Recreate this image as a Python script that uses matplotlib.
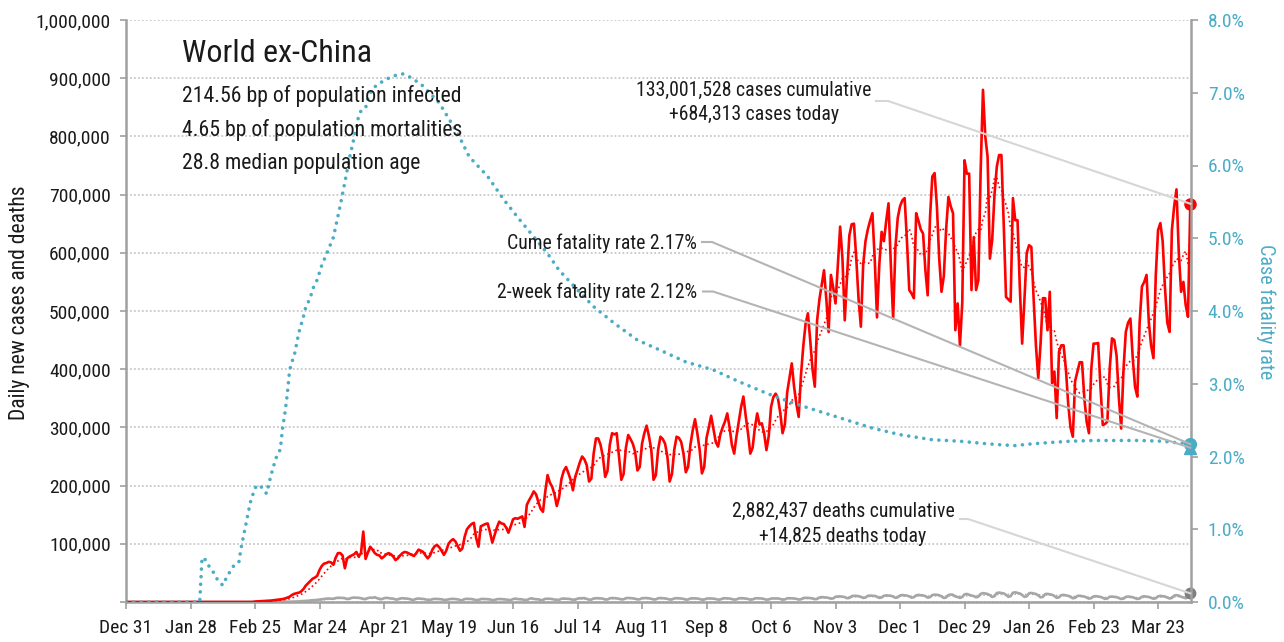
import numpy as np
import pandas as pd
import matplotlib
matplotlib.use("Agg")
import matplotlib.pyplot as plt
from matplotlib import font_manager as fm
from matplotlib.lines import Line2D
from matplotlib.transforms import IdentityTransform

# ---------------- fonts ----------------
_names = {f.name for f in fm.fontManager.ttflist}
FONT = None
for cand in ["Liberation Sans Narrow", "Roboto Condensed", "Open Sans Condensed", "Arial Narrow"]:
    if cand in _names:
        FONT = cand
        break
STRETCH = "normal"
if FONT is None:
    if any(f.name == "DejaVu Sans" and str(f.stretch) in ("condensed", "semi-condensed")
           for f in fm.fontManager.ttflist):
        FONT, STRETCH = "DejaVu Sans", "condensed"
    else:
        FONT = "Liberation Sans"
plt.rcParams["font.family"] = [FONT, "DejaVu Sans"]
plt.rcParams["font.stretch"] = STRETCH

# ---------------- data ----------------
# daily new cases (thousands), one row per week, day 0 = Dec 31 2019
cases_k = [
    0, 0, 0, 0, 0, 0, 0,
    0, 0, 0, 0, 0, 0, 0,
    0, 0, 0, 0, 0, 0, 0,
    0, 0, 0, 0, 0, 0, 0,
    0, 0, 0, 0, 0, 0, 0,
    0, 0, 0, 0, 0, 0, 0,
    0, 0, 0, 0, 0, 0, 0,
    0, 0, 0, 0, 0, 0, 0,
    0.8, 1.0, 1.2, 1.5, 1.8, 2.0, 2.2,
    2.5, 3.0, 3.5, 4.0, 4.5, 5.0, 6.0,
    7.5, 9, 12, 14, 15, 16, 18,
    22, 28, 32, 36, 40, 42, 45,
    55, 62, 66, 67, 69, 68, 64,
    76, 84, 84, 80, 58, 75, 78,
    80, 82, 86, 78, 84, 121, 74,
    85, 95, 90, 84, 81, 80, 75,
    78, 82, 84, 82, 78, 72, 75,
    80, 84, 86, 85, 83, 81, 79,
    84, 90, 88, 86, 80, 75, 80,
    90, 96, 98, 94, 88, 81, 88,
    100, 105, 108, 104, 96, 88, 92,
    112, 125, 130, 134, 136, 110, 95,
    130, 132, 134, 135, 120, 102, 115,
    128, 138, 135, 134, 128, 119, 130,
    142, 144, 143, 145, 147, 129, 167,
    175, 182, 190, 185, 172, 160, 155,
    190, 218, 205, 198, 185, 165, 180,
    211, 225, 232, 222, 210, 192, 215,
    227, 240, 250, 245, 235, 207, 212,
    255, 281, 281, 270, 250, 215, 225,
    270, 290, 288, 290, 250, 210, 220,
    265, 287, 280, 272, 258, 226, 232,
    272, 290, 303, 285, 262, 210, 218,
    262, 284, 280, 272, 250, 207, 220,
    262, 284, 282, 275, 255, 223, 232,
    270, 295, 314, 290, 262, 221, 232,
    282, 300, 320, 298, 275, 267, 288,
    300, 310, 324, 300, 270, 255, 285,
    310, 335, 353, 320, 290, 255, 265,
    300, 324, 305, 307, 290, 261, 285,
    335, 352, 358, 350, 325, 290, 305,
    360, 385, 410, 370, 340, 318, 390,
    440, 478, 496, 450, 400, 370, 484,
    520, 545, 570, 520, 464, 562, 540,
    513, 580, 645, 590, 484, 560, 630,
    649, 650, 590, 520, 473, 580, 620,
    640, 655, 668, 590, 489, 580, 636,
    620, 655, 685, 580, 487, 610, 660,
    680, 690, 694, 620, 536, 530, 522,
    668, 655, 640, 633, 570, 527, 660,
    731, 737, 680, 590, 533, 560, 640,
    696, 680, 668, 467, 513, 441, 513,
    759, 736, 736, 536, 627, 536, 553,
    742, 880, 800, 765, 590, 622, 700,
    748, 768, 768, 650, 524, 520, 516,
    694, 656, 656, 540, 444, 520, 600,
    613, 610, 520, 440, 384, 444, 522,
    522, 467, 533, 376, 396, 316, 430,
    441, 441, 400, 340, 300, 284, 380,
    396, 412, 412, 350, 310, 290, 400,
    444, 444, 445, 370, 304, 306, 310,
    400, 453, 450, 423, 350, 298, 400,
    464, 480, 487, 420, 370, 353, 480,
    542, 550, 562, 480, 440, 419, 560,
    639, 651, 620, 540, 480, 464, 639,
    680, 709, 600, 533, 550, 510, 490,
    684.313,
]

# daily deaths (thousands), same days
deaths_k = [
    0, 0, 0, 0, 0, 0, 0,
    0, 0, 0, 0, 0, 0, 0,
    0, 0, 0, 0, 0, 0, 0,
    0, 0, 0, 0, 0, 0, 0,
    0, 0, 0, 0, 0, 0, 0,
    0, 0, 0, 0, 0, 0, 0,
    0, 0, 0, 0, 0, 0, 0,
    0, 0, 0, 0, 0, 0, 0,
    0, 0, 0, 0, 0, 0, 0,
    0.05, 0.08, 0.1, 0.15, 0.2, 0.25, 0.3,
    0.4, 0.5, 0.6, 0.8, 0.9, 1.0, 1.4,
    1.6, 1.9, 2.2, 2.7, 3.1, 3.2, 3.6,
    4.2, 4.7, 5.1, 5.8, 6.0, 5.6, 5.5,
    6.8, 7.3, 7.2, 7.0, 6.5, 5.0, 5.6,
    7.2, 7.6, 7.3, 7.2, 6.4, 5.2, 5.0,
    6.8, 7.5, 7.2, 8.2, 6.5, 5.0, 4.8,
    6.5, 7.2, 6.6, 6.0, 5.8, 4.2, 4.3,
    6.0, 6.5, 6.2, 5.8, 5.2, 3.8, 3.8,
    5.5, 6.1, 5.5, 5.3, 4.5, 3.5, 3.5,
    4.8, 5.4, 5.2, 5.0, 4.6, 3.5, 3.5,
    4.6, 5.2, 5.4, 5.0, 4.6, 3.0, 3.2,
    5.0, 5.5, 5.2, 5.1, 4.2, 3.1, 3.4,
    5.0, 5.3, 5.0, 4.9, 4.3, 3.2, 3.4,
    4.8, 5.1, 5.0, 4.5, 4.3, 3.4, 3.3,
    5.0, 5.8, 5.0, 4.8, 4.4, 3.5, 3.3,
    5.3, 6.4, 5.3, 4.8, 4.5, 3.3, 3.5,
    5.5, 5.5, 5.6, 5.0, 4.2, 3.7, 3.6,
    5.6, 6.0, 5.6, 5.5, 4.8, 3.9, 4.0,
    5.8, 6.5, 6.4, 6.8, 5.3, 4.1, 4.0,
    6.1, 6.5, 6.5, 6.2, 5.8, 4.2, 4.3,
    6.3, 6.8, 6.6, 6.3, 5.5, 4.4, 4.6,
    6.6, 7.0, 6.6, 6.3, 5.6, 4.3, 4.6,
    6.5, 6.8, 6.8, 6.3, 5.5, 4.3, 4.5,
    6.4, 6.8, 6.5, 6.2, 5.4, 4.2, 4.3,
    6.2, 6.6, 6.3, 6.0, 5.3, 4.0, 4.2,
    6.0, 6.4, 6.2, 6.0, 5.2, 3.9, 4.1,
    5.8, 6.2, 6.0, 5.8, 5.1, 4.0, 4.3,
    6.0, 6.5, 6.2, 6.0, 5.0, 4.0, 4.4,
    6.2, 6.6, 6.3, 6.0, 5.2, 4.0, 4.4,
    6.2, 6.5, 6.2, 6.0, 5.1, 4.0, 4.3,
    5.9, 6.2, 6.0, 6.2, 5.2, 4.0, 4.4,
    6.3, 6.5, 6.3, 6.1, 5.4, 4.2, 4.6,
    6.8, 7.2, 7.0, 6.8, 6.0, 4.8, 5.2,
    7.8, 8.4, 8.0, 7.8, 7.0, 5.6, 6.2,
    9.0, 9.5, 9.6, 9.2, 8.4, 6.5, 7.0,
    10.0, 10.6, 10.5, 10.0, 8.8, 7.0, 7.6,
    10.6, 11.0, 10.6, 10.5, 9.0, 7.0, 7.8,
    10.6, 11.4, 11.0, 10.7, 9.4, 7.2, 8.0,
    11.2, 12.0, 11.4, 11.0, 9.6, 7.5, 8.2,
    11.4, 12.2, 11.6, 11.4, 10.0, 7.5, 8.3,
    12.0, 12.6, 12.4, 11.6, 9.5, 6.9, 7.8,
    12.0, 12.8, 12.4, 9.5, 8.6, 7.0, 8.6,
    13.2, 13.8, 12.5, 11.0, 10.2, 8.0, 9.2,
    14.0, 15.2, 14.6, 13.8, 11.6, 8.6, 10.0,
    15.5, 16.2, 15.4, 14.8, 12.2, 9.0, 10.0,
    16.0, 16.6, 15.6, 14.6, 12.0, 8.8, 9.8,
    15.0, 15.6, 14.6, 13.8, 11.3, 8.0, 8.8,
    13.6, 14.0, 13.2, 12.4, 10.2, 7.2, 8.0,
    11.8, 12.2, 11.4, 10.6, 8.8, 6.4, 7.2,
    10.4, 10.8, 10.0, 9.4, 7.6, 5.8, 6.6,
    9.6, 10.0, 9.4, 8.8, 7.2, 5.4, 6.0,
    9.0, 9.4, 8.8, 8.4, 6.8, 5.2, 5.8,
    8.8, 9.4, 8.8, 8.2, 6.8, 5.2, 6.0,
    9.0, 9.8, 9.2, 8.6, 7.2, 5.6, 6.4,
    9.8, 10.6, 10.0, 9.4, 7.8, 6.0, 7.0,
    11.0, 11.8, 11.0, 9.0, 7.6, 6.4, 8.0,
    14.825,
]

# cumulative case fatality rate (%) read at these days
cfr_day = [0, 32, 33, 34, 35, 37, 40, 42, 44, 47, 49, 50, 52, 53, 54, 56, 58, 61, 63,
           65, 67, 68, 69, 70, 71, 72, 73, 75, 77, 78, 80, 81, 83, 85, 87, 90, 93, 95,
           97, 99, 101, 102, 104, 105, 107, 112, 116, 120, 123, 128, 136, 144, 149,
           157, 164, 171, 177, 183, 188, 196, 203, 212, 222, 232, 243, 255, 266, 278,
           290, 301, 313, 324, 336, 350, 362, 372, 380, 386, 392, 400, 410, 420, 440,
           450, 456, 462]
cfr_pct = [0, 0, 0.60, 0.61, 0.53, 0.46, 0.29, 0.23, 0.36, 0.51, 0.55, 0.75, 1.06,
           1.22, 1.37, 1.57, 1.61, 1.49, 1.75, 1.97, 2.10, 2.40, 2.60, 2.85, 3.18,
           3.30, 3.38, 3.70, 3.92, 4.05, 4.18, 4.30, 4.43, 4.63, 4.78, 5.01, 5.45,
           5.77, 6.10, 6.38, 6.68, 6.75, 6.79, 6.92, 7.06, 7.17, 7.23, 7.26, 7.22,
           7.12, 6.86, 6.44, 6.12, 5.85, 5.53, 5.25, 5.02, 4.79, 4.56, 4.29, 4.06,
           3.83, 3.60, 3.46, 3.30, 3.19, 3.03, 2.87, 2.73, 2.62, 2.50, 2.39, 2.30,
           2.23, 2.21, 2.18, 2.16, 2.15, 2.17, 2.19, 2.21, 2.22, 2.22, 2.21, 2.19,
           2.17]
two_week_cfr_pct = 2.12

tick_days = [0, 28, 56, 84, 112, 140, 168, 196, 224, 252, 280, 308, 336, 364, 392, 420, 448]
tick_labels = ["Dec 31", "Jan 28", "Feb 25", "Mar 24", "Apr 21", "May 19", "Jun 16",
               "Jul 14", "Aug 11", "Sep 8", "Oct 6", "Nov 3", "Dec 1", "Dec 29",
               "Jan 26", "Feb 23", "Mar 23"]

title = "World ex-China"
info_lines = ["214.56 bp of population infected",
              "4.65 bp of population mortalities",
              "28.8 median population age"]
cases_note = ["133,001,528 cases cumulative", "+684,313 cases today"]
deaths_note = ["2,882,437 deaths cumulative", "+14,825 deaths today"]
cume_note = "Cume fatality rate 2.17%"
twowk_note = "2-week fatality rate 2.12%"

# ---------------- derived ----------------
cases = np.array(cases_k) * 1000.0
deaths = np.array(deaths_k) * 1000.0
days = np.arange(len(cases))
cases_avg = pd.Series(cases).rolling(7).mean()
deaths_avg = pd.Series(deaths).rolling(7).mean()
cfr = np.array(cfr_pct) / 100.0

# ---------------- style ----------------
RED = "#FF0000"
TEAL = "#4BACC6"
GRAYLINE = "#A6A6A6"
SPINE = "#A0A0A0"
TXT = "#1A1A1A"

W, H = 1284, 642
L, R, T, B = 126, 1191, 20, 602
fig = plt.figure(figsize=(W / 100, H / 100), dpi=100)
ax = fig.add_axes([L / W, 1 - B / H, (R - L) / W, (B - T) / H])
ax2 = ax.twinx()

ax.set_xlim(0, 462.3)
ax.set_ylim(0, 1_000_000)
ax2.set_ylim(0, 0.08)

ax.set_yticks(np.arange(0, 1_000_001, 100_000))
ax.set_yticklabels([""] + [f"{v:,}" for v in range(100_000, 1_000_001, 100_000)])
ax.grid(axis="y", color="#C8C8C8", linestyle=(0, (1.0, 1.2)), linewidth=1.3)
ax.set_axisbelow(True)

ax.set_xticks(tick_days)
ax.set_xticklabels(tick_labels)

ax2.set_yticks(np.arange(0, 0.0801, 0.01))
ax2.set_yticklabels([f"{v:.1f}%" for v in np.arange(0, 8.01, 1.0)])

for a in (ax, ax2):
    a.spines["top"].set_visible(False)
ax2.spines["left"].set_visible(False)
ax2.spines["bottom"].set_visible(False)
ax.spines["right"].set_visible(False)
for s in ("left", "bottom"):
    ax.spines[s].set_color(SPINE)
    ax.spines[s].set_linewidth(1.8)
ax2.spines["right"].set_color(SPINE)
ax2.spines["right"].set_linewidth(1.8)

ax.tick_params(axis="y", length=4, width=1.2, color=SPINE, labelsize=14, labelcolor=TXT, pad=7)
ax.tick_params(axis="x", length=5, width=1.2, color=SPINE, labelsize=14, labelcolor=TXT, pad=7)
ax2.tick_params(axis="y", length=5, width=1.2, color=SPINE, labelsize=14, labelcolor=TEAL, pad=7)

# series
ax.plot(days, deaths, color=GRAYLINE, lw=1.9, solid_joinstyle="round", zorder=3)
ax.plot(days, deaths_avg, color=GRAYLINE, lw=1.0, ls=(0, (1, 1.5)), zorder=3)
ax.plot(days, cases_avg, color=RED, lw=1.2, ls=(0, (1, 1.7)), zorder=4)
ax.plot(days, cases, color=RED, lw=1.9, solid_joinstyle="round", zorder=5)
ax2.plot(cfr_day, cfr, color=TEAL, lw=2.6, ls=(0, (0.01, 2.1)),
         dash_capstyle="round", zorder=4)

last = days[-1]
ax.plot([last], [cases[-1]], "o", color=RED, ms=8, clip_on=False, zorder=6)
ax.plot([last], [deaths[-1]], "o", color="#7F7F7F", ms=7.5, clip_on=False, zorder=6)
ax2.plot([last], [two_week_cfr_pct / 100], "^", color=TEAL, ms=8.5, clip_on=False, zorder=6)
ax2.plot([last], [cfr[-1]], "o", color=TEAL, ms=8.5, clip_on=False, zorder=7)

# ---------------- text ----------------
def ftext(px, py, s, **kw):
    kw.setdefault("color", TXT)
    kw.setdefault("va", "center")
    return fig.text(px / W, 1 - py / H, s, **kw)

ftext(182, 53, title, fontsize=23, ha="left")
for i, s in enumerate(info_lines):
    ftext(182, 96 + 34 * i, s, fontsize=15.7, ha="left")

ftext(754, 90, cases_note[0], fontsize=14.2, ha="center")
ftext(754, 115, cases_note[1], fontsize=14.2, ha="center")
ftext(697, 243, cume_note, fontsize=14.2, ha="right")
ftext(697, 292, twowk_note, fontsize=14.2, ha="right")
ftext(843, 511, deaths_note[0], fontsize=14.2, ha="center")
ftext(843, 536, deaths_note[1], fontsize=14.2, ha="center")

ftext(20, 303, "Daily new cases and deaths", fontsize=15.5, ha="center", rotation=90)
ftext(1266, 312, "Case fatality rate", fontsize=14.5, ha="center", rotation=270, color=TEAL)

# leader lines (display pixels)
def draw_leader(x0, x1, py, end_disp, color, lw=1.5):
    yd = H - py
    ln = Line2D([x0, x1, end_disp[0]], [yd, yd, end_disp[1]], color=color, lw=lw,
                transform=IdentityTransform(), zorder=2)
    fig.add_artist(ln)

e_cases = ax.transData.transform((last, cases[-1]))
e_deaths = ax.transData.transform((last, deaths[-1]))
e_cume = ax2.transData.transform((last, cfr[-1]))
e_2wk = ax2.transData.transform((last, two_week_cfr_pct / 100))

draw_leader(876, 888, 101, e_cases, "#D6D6D6")
draw_leader(702, 712, 242, e_cume, "#B4B4B4")
draw_leader(703, 713, 291.5, e_2wk, "#B4B4B4")
draw_leader(960, 968, 519, e_deaths, "#D6D6D6")

fig.savefig("out.png", dpi=100)
